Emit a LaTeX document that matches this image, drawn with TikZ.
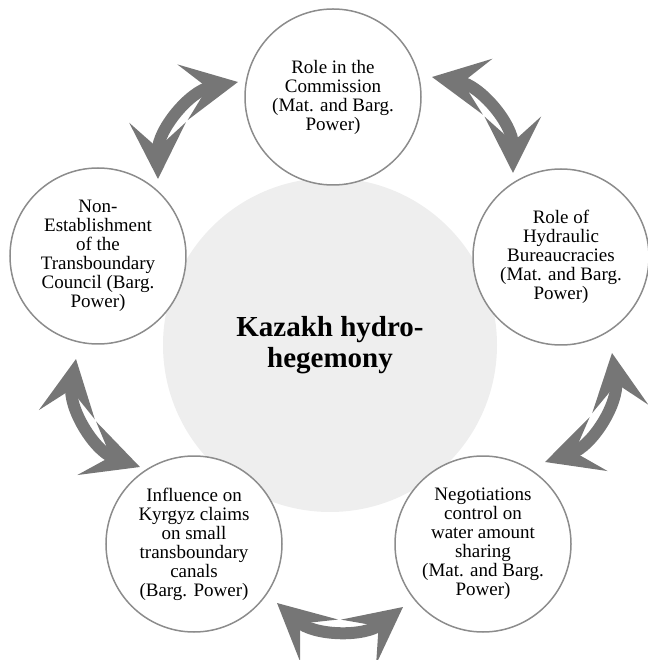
\documentclass[tikz,border=0pt]{standalone}
\usepackage{fontspec}
\setmainfont{Liberation Serif}
\usetikzlibrary{arrows.meta}
\definecolor{rimgray}{HTML}{8C8C8C}
\definecolor{swooshgray}{HTML}{767676}
\definecolor{hubfill}{HTML}{EEEEEE}

\begin{document}
\begin{tikzpicture}[x=1pt,y=1pt,
    part/.style={circle,draw=rimgray,line width=1.5pt,fill=white,minimum size=176pt,
      inner sep=0pt,align=center,font=\fontsize{19}{19}\selectfont},
    swoosh/.style={draw=swooshgray,line width=12pt,
      {Stealth[length=56pt,width=56pt,inset=25pt]}-{Stealth[length=56pt,width=56pt,inset=25pt]}}]
  \useasboundingbox (-330,-315) rectangle (317,345);
  \node[circle,fill=hubfill,minimum size=334pt,inner sep=0pt,
    font=\fontsize{29}{31}\selectfont\bfseries,align=center] (hub) at (0,0)
    {Kazakh hydro-\\hegemony};
  \node[part] (commission) at (3,248) {Role in the\\Commission\\(Mat. and Barg.\\Power)};
  \node[part] (bureau) at (231,88) {Role of\\Hydraulic\\Bureaucracies\\(Mat. and Barg.\\Power)};
  \node[part] (sharing) at (153,-199) {Negotiations\\control on\\water amount\\sharing\\(Mat. and Barg.\\Power)};
  \node[part] (canals) at (-136,-199) {Influence on\\Kyrgyz claims\\on small\\transboundary\\canals\\(Barg. Power)};
  \node[part] (council) at (-232,89) {Non-\\Establishment\\of the\\Transboundary\\Council (Barg.\\Power)};
  \coordinate (a1) at (-92,263);
  \coordinate (b1) at (-172,166);
  \coordinate (a2) at (183,172);
  \coordinate (b2) at (102,268);
  \coordinate (a3) at (215,-117);
  \coordinate (b3) at (282,-8);
  \coordinate (a4) at (-53,-258);
  \coordinate (b4) at (73,-262);
  \coordinate (a5) at (-254,-14);
  \coordinate (b5) at (-190,-122);
  \draw[swoosh] (a1) to[bend right=40] (b1);
  \draw[swoosh] (a2) to[bend right=40] (b2);
  \draw[swoosh] (a3) to[bend right=40] (b3);
  \draw[swoosh] (a4) to[bend right=40] (b4);
  \draw[swoosh] (a5) to[bend right=40] (b5);
\end{tikzpicture}
\end{document}
